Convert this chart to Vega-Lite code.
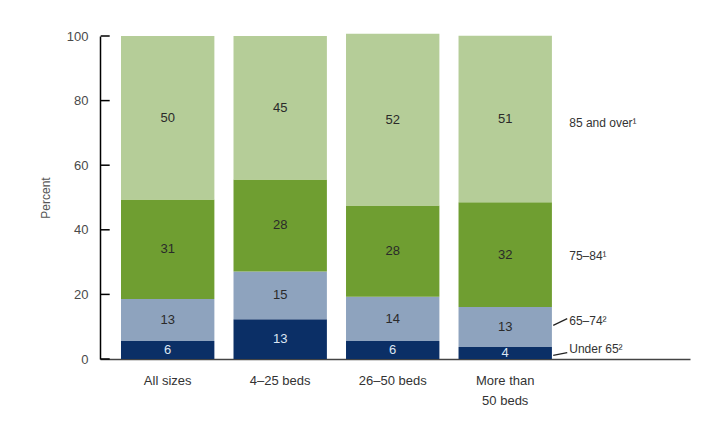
{
  "$schema": "https://vega.github.io/schema/vega-lite/v6.json",
  "width": 590,
  "height": 323,
  "autosize": "none",
  "padding": {"left": 100, "top": 36, "right": 11, "bottom": 64},
  "background": "white",
  "config": {
    "view": {"stroke": null},
    "font": "Liberation Sans",
    "text": {"font": "Liberation Sans"}
  },
  "datasets": {
    "bars": [
      {"size": "All sizes", "age": "Under 65", "ord": 1, "pct": 5.6, "label": "6"},
      {"size": "All sizes", "age": "65–74", "ord": 2, "pct": 13.0, "label": "13"},
      {"size": "All sizes", "age": "75–84", "ord": 3, "pct": 30.8, "label": "31"},
      {"size": "All sizes", "age": "85 and over", "ord": 4, "pct": 50.6, "label": "50"},
      {"size": "4–25 beds", "age": "Under 65", "ord": 1, "pct": 12.3, "label": "13"},
      {"size": "4–25 beds", "age": "65–74", "ord": 2, "pct": 14.8, "label": "15"},
      {"size": "4–25 beds", "age": "75–84", "ord": 3, "pct": 28.5, "label": "28"},
      {"size": "4–25 beds", "age": "85 and over", "ord": 4, "pct": 44.4, "label": "45"},
      {"size": "26–50 beds", "age": "Under 65", "ord": 1, "pct": 5.6, "label": "6"},
      {"size": "26–50 beds", "age": "65–74", "ord": 2, "pct": 13.7, "label": "14"},
      {"size": "26–50 beds", "age": "75–84", "ord": 3, "pct": 28.2, "label": "28"},
      {"size": "26–50 beds", "age": "85 and over", "ord": 4, "pct": 53.2, "label": "52"},
      {"size": "More than 50 beds", "age": "Under 65", "ord": 1, "pct": 3.7, "label": "4"},
      {"size": "More than 50 beds", "age": "65–74", "ord": 2, "pct": 12.4, "label": "13"},
      {"size": "More than 50 beds", "age": "75–84", "ord": 3, "pct": 32.4, "label": "32"},
      {"size": "More than 50 beds", "age": "85 and over", "ord": 4, "pct": 51.6, "label": "51"}
    ],
    "names": [
      {"size": "More than 50 beds", "name": "85 and over¹", "ypos": 73.2},
      {"size": "More than 50 beds", "name": "75–84¹", "ypos": 32.0},
      {"size": "More than 50 beds", "name": "65–74²", "ypos": 11.9},
      {"size": "More than 50 beds", "name": "Under 65²", "ypos": 3.2}
    ],
    "leaders": [
      {"size": "More than 50 beds", "from": 10.4, "to": 12.5},
      {"size": "More than 50 beds", "from": 1.1, "to": 2.0}
    ],
    "yticks": [
      {"size": "All sizes", "tv": 0},
      {"size": "All sizes", "tv": 20},
      {"size": "All sizes", "tv": 40},
      {"size": "All sizes", "tv": 60},
      {"size": "All sizes", "tv": 80},
      {"size": "All sizes", "tv": 100}
    ]
  },
  "layer": [
    {
      "data": {"name": "bars"},
      "mark": {"type": "bar"},
      "encoding": {
        "x": {
          "field": "size", "type": "nominal", "sort": null,
          "scale": {"paddingInner": 0.17, "paddingOuter": 0.707, "align": 0.132},
          "axis": {
            "title": null, "ticks": false, "labelAngle": 0,
            "domainColor": "#444444", "domainWidth": 1.5,
            "labelColor": "#333333", "labelFontSize": 13, "labelPadding": 15,
            "labelLineHeight": 20,
            "labelExpr": "datum.value == 'More than 50 beds' ? ['More than', '50 beds'] : datum.value"
          }
        },
        "y": {
          "field": "pct", "type": "quantitative", "stack": "zero",
          "scale": {"domain": [0, 100], "nice": false},
          "axis": {
            "title": "Percent", "values": [0, 20, 40, 60, 80, 100],
            "grid": false, "ticks": false,
            "domainColor": "#000000", "domainWidth": 1.5,
            "labelColor": "#4a4a4a", "labelFontSize": 13, "labelPadding": 12,
            "titleColor": "#555555", "titleFontSize": 12, "titleFontWeight": "normal",
            "titlePadding": 14
          }
        },
        "color": {
          "field": "age", "type": "nominal",
          "scale": {
            "domain": ["Under 65", "65–74", "75–84", "85 and over"],
            "range": ["#0b2f66", "#8ea3be", "#6f9e31", "#b5cd98"]
          },
          "legend": null
        },
        "order": {"field": "ord", "type": "quantitative"}
      }
    },
    {
      "data": {"name": "bars"},
      "mark": {"type": "text", "fontSize": 13, "baseline": "middle"},
      "encoding": {
        "x": {"field": "size", "type": "nominal", "sort": null},
        "y": {"field": "pct", "type": "quantitative", "stack": "zero", "bandPosition": 0.5},
        "detail": {"field": "age", "type": "nominal"},
        "order": {"field": "ord", "type": "quantitative"},
        "text": {"field": "label", "type": "nominal"},
        "color": {
          "condition": {"test": "datum.age == 'Under 65'", "value": "#dde6f3"},
          "value": "#2a2a2a"
        }
      }
    },
    {
      "data": {"name": "names"},
      "mark": {"type": "text", "fontSize": 12, "align": "left", "baseline": "middle", "dx": 64, "color": "#333333"},
      "encoding": {
        "x": {"field": "size", "type": "nominal", "sort": null},
        "y": {"field": "ypos", "type": "quantitative"},
        "text": {"field": "name", "type": "nominal"}
      }
    },
    {
      "data": {"name": "leaders"},
      "mark": {"type": "rule", "color": "#222222", "strokeWidth": 1.2, "xOffset": 48, "x2Offset": 62},
      "encoding": {
        "x": {"field": "size", "type": "nominal", "sort": null},
        "x2": {"field": "size"},
        "y": {"field": "from", "type": "quantitative"},
        "y2": {"field": "to"}
      }
    },
    {
      "data": {"name": "yticks"},
      "mark": {"type": "tick", "orient": "horizontal", "color": "#000000", "opacity": 1, "size": 9, "thickness": 1.5, "xOffset": -62.5},
      "encoding": {
        "x": {"field": "size", "type": "nominal", "sort": null},
        "y": {"field": "tv", "type": "quantitative"}
      }
    }
  ]
}
